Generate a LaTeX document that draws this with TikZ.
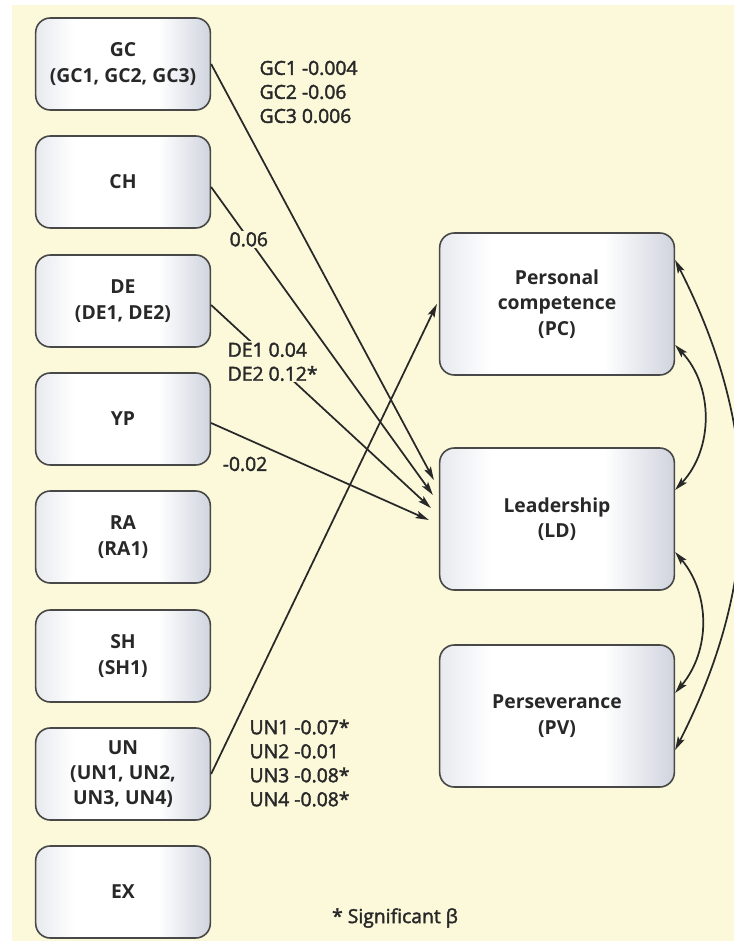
\documentclass[tikz,border=0pt]{standalone}
\usepackage{fontspec}
\setmainfont{Open Sans}
\newfontfamily\coeffont[FakeBold=2]{Open Sans}
\usetikzlibrary{calc,arrows.meta}
\definecolor{cream}{RGB}{251,249,218}
\definecolor{boxgray}{RGB}{208,212,222}
\definecolor{ink}{RGB}{40,40,40}
\pgfdeclarehorizontalshading{boxshade}{100bp}{color(0bp)=(boxgray!50); color(25bp)=(boxgray!50); color(36bp)=(white); color(60bp)=(white); color(75bp)=(boxgray); color(100bp)=(boxgray)}

\begin{document}
\begin{tikzpicture}[x=0.75pt,y=-0.75pt,
	box/.style={draw=ink!85, line width=1.2pt, rounded corners=11pt,
		shading=boxshade, minimum width=131pt, minimum height=69pt,
		align=center, text=ink, font=\fontsize{14.5}{19}\selectfont\bfseries},
	bigbox/.style={box, minimum width=176pt, minimum height=106.5pt},
	coef/.style={text=ink, align=left, inner sep=1pt,
		font=\coeffont\fontsize{14.5}{18}\selectfont},
	effect/.style={draw=ink, line width=1.3pt,
		-{Stealth[length=10pt,width=5.5pt,inset=2pt]}},
	corr/.style={effect,
		{Stealth[length=10pt,width=5.5pt,inset=2pt]}-{Stealth[length=10pt,width=5.5pt,inset=2pt]}}]
			%%%%% START %%%%%
			
			\useasboundingbox (0,0) rectangle (734,941);
			\fill[cream] (12,5) rectangle (734,941);
			
			% predictors
			\node[box] (GC) at (123,64) {GC\\(GC1, GC2, GC3)};
			\node[box] (CH) at (123,182) {CH};
			\node[box] (DE) at (123,301) {DE\\(DE1, DE2)};
			\node[box] (YP) at (123,419) {YP};
			\node[box] (RA) at (123,537) {RA\\(RA1)};
			\node[box] (SH) at (123,656) {SH\\(SH1)};
			\node[box] (UN) at (123,774) {UN\\(UN1, UN2,\\UN3, UN4)};
			\node[box] (EX) at (123,892) {EX};
			
			% outcomes
			\node[bigbox] (PC) at (557,304) {Personal\\competence\\(PC)};
			\node[bigbox] (LD) at (557,519) {Leadership\\(LD)};
			\node[bigbox] (PV) at (557,716) {Perseverance\\(PV)};
			
			\draw[effect] (GC.east) -- ($(LD.west)+(-5,-39)$);
			\draw[effect] ($(CH.east)+(0,5)$) -- node[coef, fill=cream, pos=0.17] (CHval) {0.06} ($(LD.west)+(-6,-24)$);
			\draw[effect] ($(DE.east)+(0,4)$) -- node[coef, fill=cream, pos=0.28] (DEval) {DE1 0.04\\DE2 0.12*} ($(LD.west)+(-8,-11)$);
			\draw[effect] ($(YP.east)+(0,4)$) -- ($(LD.west)+(-10,1)$);
			\draw[effect] (UN.east) -- ($(PC.west)+(-2,0)$);
			
			\node[coef, anchor=west] (GCval) at (258,92) {GC1 -0.004\\GC2 -0.06\\GC3 0.006};
			\node[coef] (YPval) at (245,464) {-0.02};
			\node[coef, anchor=west] (UNval) at (248,763) {UN1 -0.07*\\UN2 -0.01\\UN3 -0.08*\\UN4 -0.08*};
			
			% correlations
			\draw[corr] ($(PC.east)+(0,-44)$) to[bend left=27] ($(PV.east)+(0,34)$);
			\draw[corr] ($(PC.east)+(0,41)$) to[bend left=43] ($(LD.east)+(0,-29)$);
			\draw[corr] ($(LD.east)+(0,33)$) to[bend left=40] ($(PV.east)+(0,-23)$);
			
			\node[coef] (note) at (395,918) {* Significant β};
			
			%%%%% END %%%%%
\end{tikzpicture}
\end{document}
